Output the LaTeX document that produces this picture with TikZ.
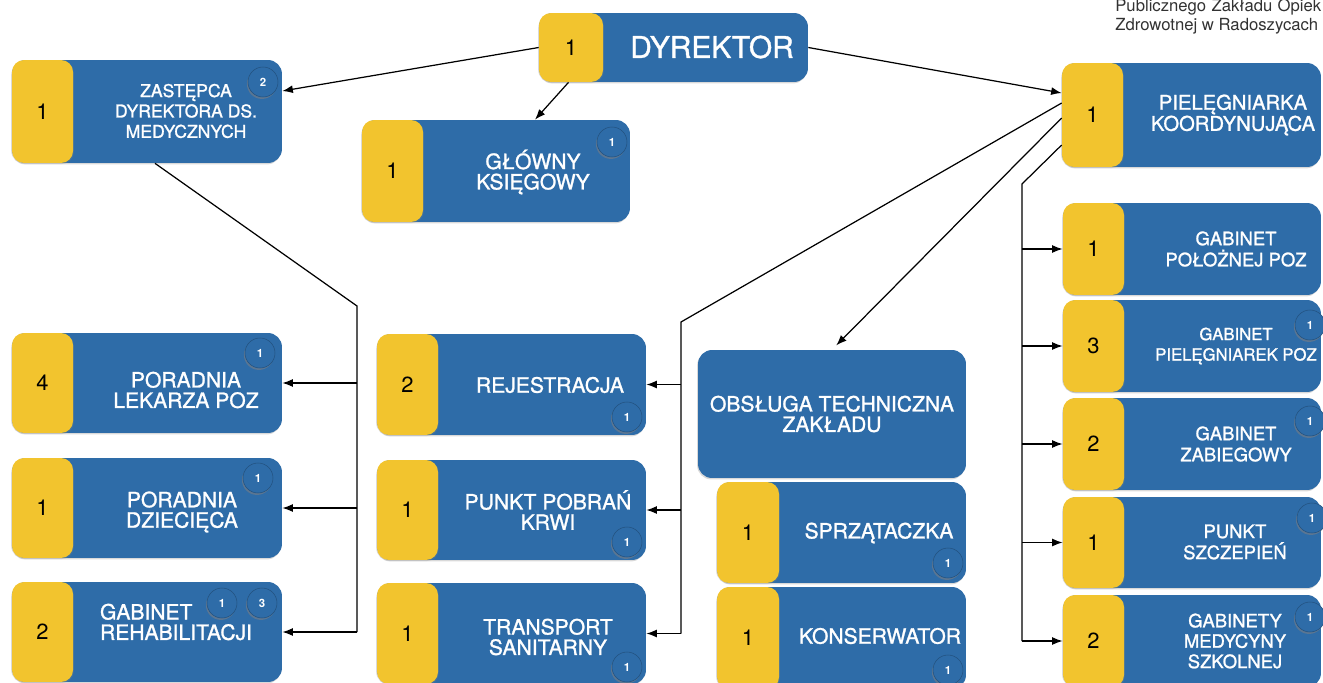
\documentclass[tikz,border=0pt]{standalone}
\usepackage{fontspec}
\setmainfont{TeX Gyre Heros}
\newfontfamily\cardfont{TeX Gyre Heros}[FakeBold=1.2]
\usepackage{xcolor}
\usetikzlibrary{arrows.meta,positioning,calc,shadows}

\definecolor{cardblue}{RGB}{46,108,168}
\definecolor{cardyellow}{RGB}{242,196,46}
\definecolor{headgray}{RGB}{50,50,50}

\begin{document}
\begin{tikzpicture}[
  x=0.02cm, y=-0.02cm,
  card/.style={rectangle, rounded corners=0.28cm, fill=cardblue, inner sep=0pt,
               drop shadow={shadow xshift=-0.5pt, shadow yshift=-0.8pt, opacity=0.3}},
  numbox/.style={rectangle, rounded corners=0.24cm, fill=cardyellow, inner sep=0pt,
                 minimum width=1.22cm, anchor=west, text=black,
                 font=\fontsize{12.5pt}{14pt}\selectfont,
                 drop shadow={shadow xshift=0.5pt, shadow yshift=-0.6pt, opacity=0.25}},
  cardtxt/.style={text=white, align=center, inner sep=0pt,
                  font=\cardfont\fontsize{12pt}{11.6pt}\selectfont},
  smalltxt/.style={cardtxt, font=\cardfont\fontsize{10pt}{11.6pt}\selectfont},
  badge/.style={circle, fill=cardblue, draw=cardblue!75!black, line width=0.3pt,
                minimum size=0.6cm, inner sep=0pt, text=white,
                font=\fontsize{6.5pt}{7pt}\selectfont\bfseries,
                drop shadow={shadow xshift=-0.6pt, shadow yshift=-1.1pt, opacity=0.55}},
  head/.style={text=headgray, inner sep=0pt, anchor=base west,
               font=\fontsize{9.5pt}{11pt}\selectfont},
  arr/.style={-{Latex[length=6pt,width=4.5pt]}, line width=0.7pt},
  wire/.style={line width=0.7pt}
]
\useasboundingbox (0,0) rectangle (1323,683);

% header
\node[head] (hd1) at (1115,11) {\makebox[4.12cm][s]{Publicznego Zakładu Opiek}};
\node[head] (hd2) at (1115,30) {Zdrowotnej w Radoszycach};

% top row
\node[card, minimum width=5.38cm, minimum height=1.38cm] (dyr) at (673.5,47.5) {};
\node[numbox, minimum width=1.28cm, minimum height=1.38cm] (dyrn) at (dyr.west) {1};
\node[cardtxt, font=\cardfont\fontsize{17pt}{19pt}\selectfont] (dyrt) at (712,47) {DYREKTOR};

\node[card, minimum width=5.40cm, minimum height=2.06cm] (zast) at (147,111.5) {};
\node[numbox, minimum height=2.06cm] (zastn) at (zast.west) {1};
\node[smalltxt] (zastt) at (186,111) {ZASTĘPCA\\DYREKTORA DS.\\MEDYCZNYCH};
\node[badge] (zastb) at (263,82) {2};

\node[card, minimum width=5.36cm, minimum height=2.04cm] (glow) at (496,171) {};
\node[numbox, minimum height=2.04cm] (glown) at (glow.west) {1};
\node[cardtxt] (glowt) at (533,172) {GŁÓWNY\\KSIĘGOWY};
\node[badge] (glowb) at (612,142) {1};

\node[card, minimum width=5.18cm, minimum height=2.08cm] (piel) at (1191.5,115) {};
\node[numbox, minimum height=2.08cm] (pieln) at (piel.west) {1};
\node[cardtxt, font=\cardfont\fontsize{11.5pt}{12pt}\selectfont] (pielt) at (1233,115) {PIELĘGNIARKA\\KOORDYNUJĄCA};

% left column
\node[card, minimum width=5.40cm, minimum height=2.0cm] (lek) at (147,383) {};
\node[numbox, minimum height=2.0cm] (lekn) at (lek.west) {4};
\node[cardtxt] (lekt) at (186,390) {PORADNIA\\LEKARZA POZ};
\node[badge] (lekb) at (260,353) {1};

\node[card, minimum width=5.40cm, minimum height=2.0cm] (dzie) at (147,508) {};
\node[numbox, minimum height=2.0cm] (dzien) at (dzie.west) {1};
\node[cardtxt] (dziet) at (182,512) {PORADNIA\\DZIECIĘCA};
\node[badge] (dzieb) at (258,478) {1};

\node[card, minimum width=5.40cm, minimum height=2.0cm] (reh) at (147,632) {};
\node[numbox, minimum height=2.0cm] (rehn) at (reh.west) {2};
\node[cardtxt, align=left] (reht) at (176,622) {GABINET\\REHABILITACJI};
\node[badge] (rehb1) at (222,603) {1};
\node[badge] (rehb2) at (262,603) {3};

% middle column
\node[card, minimum width=5.38cm, minimum height=2.02cm] (rej) at (511.5,384.5) {};
\node[numbox, minimum height=2.02cm] (rejn) at (rej.west) {2};
\node[cardtxt] (rejt) at (550,385) {REJESTRACJA};
\node[badge] (rejb) at (627,417) {1};

\node[card, minimum width=5.38cm, minimum height=2.0cm] (pkt) at (511.5,510) {};
\node[numbox, minimum height=2.0cm] (pktn) at (pkt.west) {1};
\node[cardtxt] (pktt) at (548,510) {PUNKT POBRAŃ\\KRWI};
\node[badge] (pktb) at (627,542) {1};

\node[card, minimum width=5.38cm, minimum height=2.02cm] (trn) at (511.5,633.5) {};
\node[numbox, minimum height=2.02cm] (trnn) at (trn.west) {1};
\node[cardtxt] (trnt) at (548,637) {TRANSPORT\\SANITARNY};
\node[badge] (trnb) at (627,667) {1};

% technical staff
\node[card, minimum width=5.36cm, minimum height=2.56cm] (obs) at (832,414) {};
\node[cardtxt] (obst) at (832,414) {OBSŁUGA TECHNICZNA\\ZAKŁADU};

\node[card, minimum width=4.98cm, minimum height=2.02cm] (spr) at (841.5,532.5) {};
\node[numbox, minimum width=1.24cm, minimum height=2.02cm] (sprn) at (spr.west) {1};
\node[cardtxt] (sprt) at (879,533) {SPRZĄTACZKA};
\node[badge] (sprb) at (948,563) {1};

\node[card, minimum width=4.98cm, minimum height=2.04cm] (kon) at (841.5,638) {};
\node[numbox, minimum width=1.24cm, minimum height=2.04cm] (konn) at (kon.west) {1};
\node[cardtxt] (kont) at (880,636) {KONSERWATOR};
\node[badge] (konb) at (948,670) {1};

% right column
\node[card, minimum width=5.16cm, minimum height=1.84cm] (gpol) at (1192,249) {};
\node[numbox, minimum height=1.84cm] (gpoln) at (gpol.west) {1};
\node[smalltxt, font=\cardfont\fontsize{10.5pt}{12pt}\selectfont] (gpolt) at (1236,249) {GABINET\\POŁOŻNEJ POZ};

\node[card, minimum width=5.16cm, minimum height=1.84cm] (gpiel) at (1192,346) {};
\node[numbox, minimum height=1.84cm] (gpieln) at (gpiel.west) {3};
\node[smalltxt, font=\cardfont\fontsize{9.5pt}{11.6pt}\selectfont] (gpielt) at (1236,346) {GABINET\\PIELĘGNIAREK POZ};
\node[badge] (gpielb) at (1310,325) {1};

\node[card, minimum width=5.16cm, minimum height=1.84cm] (gzab) at (1192,444) {};
\node[numbox, minimum height=1.84cm] (gzabn) at (gzab.west) {2};
\node[smalltxt, font=\cardfont\fontsize{10.5pt}{12pt}\selectfont] (gzabt) at (1236,444) {GABINET\\ZABIEGOWY};
\node[badge] (gzabb) at (1310,421) {1};

\node[card, minimum width=5.16cm, minimum height=1.82cm] (gszcz) at (1192,542.5) {};
\node[numbox, minimum height=1.82cm] (gszczn) at (gszcz.west) {1};
\node[smalltxt, font=\cardfont\fontsize{10.5pt}{12pt}\selectfont] (gszczt) at (1235,542) {PUNKT\\SZCZEPIEŃ};
\node[badge] (gszczb) at (1312,518) {1};

\node[card, minimum width=5.16cm, minimum height=1.84cm] (gmed) at (1192,641) {};
\node[numbox, minimum height=1.84cm] (gmedn) at (gmed.west) {2};
\node[smalltxt, font=\cardfont\fontsize{10.5pt}{11.6pt}\selectfont] (gmedt) at (1235,641) {GABINETY\\MEDYCYNY\\SZKOLNEJ};
\node[badge] (gmedb) at (1310,617) {1};

% connectors from the director
\draw[arr] (dyr.west) -- ([yshift=0.41cm]zast.east);
\draw[arr] ([xshift=-2.1cm]dyr.south) -- ([xshift=0.78cm]glow.north);
\draw[arr] (dyr.east) -- ([yshift=0.44cm]piel.west);

% deputy -> left column
\coordinate (lbus) at (357,306);
\draw[wire] ([xshift=0.16cm]zast.south) -- (lbus) -- (lbus |- reh.east);
\draw[arr] (lbus |- lek.east) -- (lek.east);
\draw[arr] (lbus |- dzie.east) -- (dzie.east);
\draw[arr] (lbus |- reh.east) -- (reh.east);

% nurse -> middle column
\coordinate (mbus) at (681,322);
\draw[wire] ([yshift=0.24cm]piel.west) -- (mbus) -- (mbus |- trn.east);
\draw[arr] (mbus |- rej.east) -- (rej.east);
\draw[arr] (mbus |- pkt.east) -- (pkt.east);
\draw[arr] (mbus |- trn.east) -- (trn.east);

% nurse -> technical staff
\draw[arr, shorten >=0.12cm] ([yshift=-0.06cm]piel.west) -- (obs.north);

% nurse -> right column
\coordinate (rbus) at (1022,184);
\draw[wire] ([yshift=-0.6cm]piel.west) -- (rbus) -- (rbus |- gmed.west);
\draw[arr] (rbus |- gpol.west) -- (gpol.west);
\draw[arr] (rbus |- gpiel.west) -- (gpiel.west);
\draw[arr] (rbus |- gzab.west) -- (gzab.west);
\draw[arr] (rbus |- gszcz.west) -- (gszcz.west);
\draw[arr] (rbus |- gmed.west) -- (gmed.west);
\end{tikzpicture}
\end{document}
